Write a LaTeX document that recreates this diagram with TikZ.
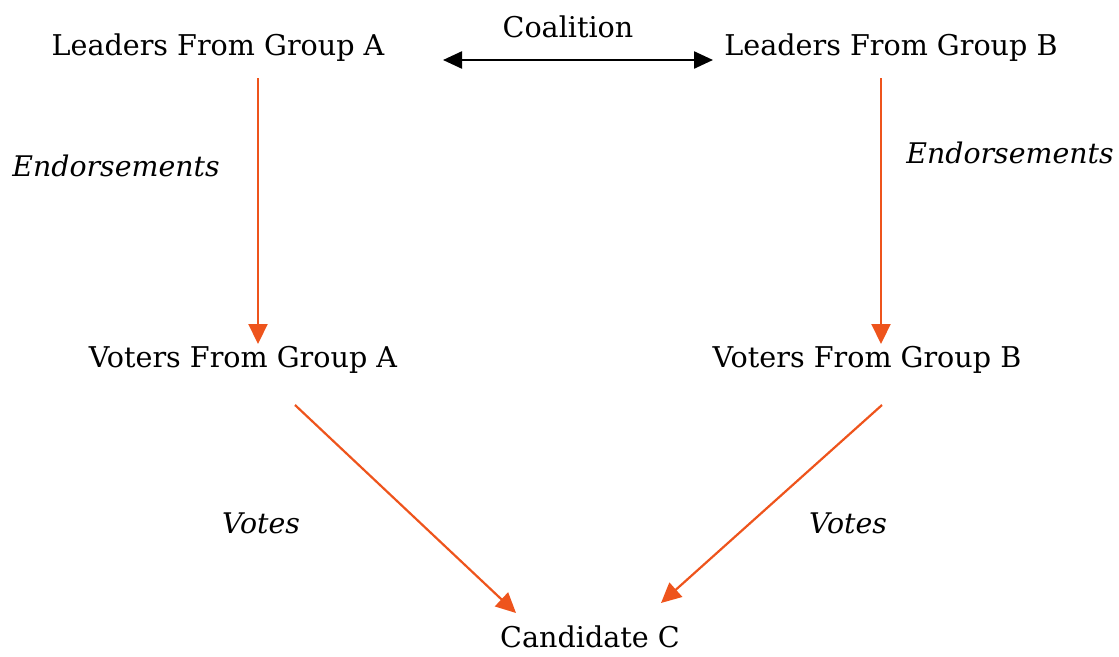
\documentclass[tikz,border=0pt]{standalone}
\usepackage{fontspec}
\setmainfont{DejaVu Serif}
\usetikzlibrary{arrows.meta}
\definecolor{flow}{RGB}{238,84,28}
\begin{document}
\begin{tikzpicture}[x=1pt,y=-1pt,
  lbl/.style={inner sep=0pt,font=\fontsize{28.6}{34}\selectfont},
  edge/.style={inner sep=0pt,font=\fontsize{28.4}{34}\selectfont\itshape},
  flowarrow/.style={draw=flow,line width=2.2pt,-{Triangle[length=20pt,width=19pt,fill=flow]}},
  linkarrow/.style={draw=black,line width=2.4pt,{Triangle[length=19pt,width=17pt]}-{Triangle[length=19pt,width=17pt]}}]
  \useasboundingbox (0,0) rectangle (1119,656);
  % node labels
  \node[lbl] (la) at (218,48) {Leaders From Group A};
  \node[lbl] (lb) at (891,48) {Leaders From Group B};
  \node[lbl] (va) at (243,360) {Voters From Group A};
  \node[lbl] (vb) at (867,360) {Voters From Group B};
  \node[lbl] (cc) at (590,637) {Candidate C};
  % end points of the connectors
  \coordinate (coL) at (443,60);
  \coordinate (coR) at (713,60);
  \coordinate (laS) at (258,78);
  \coordinate (vaN) at (258,344);
  \coordinate (lbS) at (881,78);
  \coordinate (vbN) at (881,344);
  \coordinate (vaS) at (295,405);
  \coordinate (vbS) at (882,405);
  \coordinate (ccW) at (516,613);
  \coordinate (ccE) at (661,603);
  % connectors
  \draw[linkarrow] (coL) -- (coR);
  \draw[flowarrow] (laS) -- (vaN);
  \draw[flowarrow] (lbS) -- (vbN);
  \draw[flowarrow] (vaS) -- (ccW);
  \draw[flowarrow] (vbS) -- (ccE);
  % connector labels
  \node[lbl] (coal) at (568,27) {Coalition};
  \node[edge] (enA) at (116,166) {Endorsements};
  \node[edge] (enB) at (1010,153) {Endorsements};
  \node[edge] (voA) at (261,523) {Votes};
  \node[edge] (voB) at (848,523) {Votes};
\end{tikzpicture}
\end{document}
